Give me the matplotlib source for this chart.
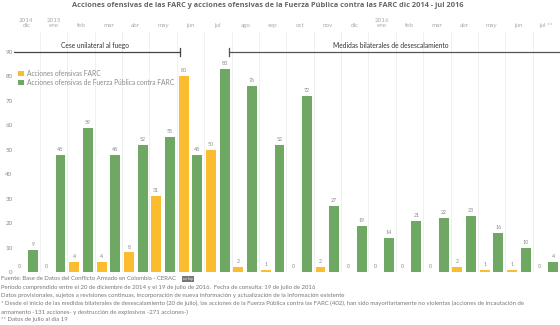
import numpy as np
import matplotlib.pyplot as plt

plt.rcParams['font.family'] = ['Lato', 'DejaVu Sans']

# months dic 2014 - jul 2016
meses = ['dic', 'ene', 'feb', 'mar', 'abr', 'may', 'jun', 'jul', 'ago', 'sep',
         'oct', 'nov', 'dic', 'ene', 'feb', 'mar', 'abr', 'may', 'jun', 'jul **']
farc = [0, 0, 4, 4, 8, 31, 80, 50, 2, 1, 0, 2, 0, 0, 0, 0, 2, 1, 1, 0]
fuerza_publica = [9, 48, 59, 48, 52, 55, 48, 83, 76, 52, 72, 27, 19, 14, 21, 22, 23, 16, 10, 4]
yticks = [0, 10, 20, 30, 40, 50, 60, 70, 80, 90]

amarillo = '#fbbd2f'
verde = '#6ea862'
gris = '#8a8a8a'

fig = plt.figure(figsize=(5.6, 3.25), dpi=100)
ax = fig.add_axes([0.025, 0.163, 0.975, 0.738])

x = np.arange(len(meses))
w = 0.36
ax.bar(x - 0.25, farc, w, color=amarillo, label='Acciones ofensivas FARC')
ax.bar(x + 0.25, fuerza_publica, w, color=verde,
       label='Acciones ofensivas de Fuerza Pública contra FARC')

# value labels
for xi, v in zip(x - 0.25, farc):
    ax.text(xi, v + 1.2, str(v), ha='center', va='bottom', fontsize=3.8, color=gris)
for xi, v in zip(x + 0.25, fuerza_publica):
    ax.text(xi, v + 1.2, str(v), ha='center', va='bottom', fontsize=3.8, color=gris)

ax.set_xlim(-0.45, 19.5)
ax.set_ylim(0, 98)

# month grid lines
for b in x[:-1] + 0.5:
    ax.axvline(b, color='#eeeeee', lw=0.6, zorder=0)

for s in ax.spines.values():
    s.set_visible(False)

ax.set_yticks(yticks)
ax.tick_params(axis='y', length=0, labelsize=4.5, labelcolor=gris, pad=1)
ax.xaxis.tick_top()
ax.set_xticks(x)
ax.set_xticklabels(meses)
ax.tick_params(axis='x', length=0, labelsize=4.5, labelcolor='#aaaaaa', pad=3)

# years above the months
for xi, yr in [(0, '2014'), (1, '2015'), (13, '2016')]:
    ax.text(xi, 1.04, yr, transform=ax.get_xaxis_transform(), ha='center',
            va='bottom', fontsize=4.5, color='#aaaaaa')

# periods
ax.plot([-0.45, 5.6], [90, 90], color='#444444', lw=0.9)
ax.plot([5.6, 5.6], [88.3, 91.7], color='#444444', lw=0.9)
ax.text(2.5, 91.2, 'Cese unilateral al fuego', ha='center', va='bottom',
        fontsize=4.8, color='#333333')
ax.plot([7.4, 19.5], [90, 90], color='#555555', lw=0.9)
ax.plot([7.4, 7.4], [88.3, 91.7], color='#555555', lw=0.9)
ax.text(13.3, 91.2, 'Medidas bilaterales de desescalamiento', ha='center',
        va='bottom', fontsize=4.8, color='#333333')

ax.legend(loc='upper left', bbox_to_anchor=(0.0, 0.86), frameon=False,
          fontsize=4.8, labelcolor=gris, handlelength=0.9, handleheight=0.9,
          handletextpad=0.4, borderaxespad=0.2, labelspacing=0.3)

fig.text(0.478, 0.993, 'Acciones ofensivas de las FARC y acciones ofensivas de la '
         'Fuerza Pública contra las FARC dic 2014 - jul 2016',
         ha='center', va='top', fontsize=5.3, fontweight='bold', color='#666666',
         family=['Open Sans', 'DejaVu Sans'])

notas = [
    'Fuente: Base de Datos del Conflicto Armado en Colombia - CERAC',
    'Período comprendido entre el 20 de diciembre de 2014 y el 19 de julio de 2016.  Fecha de consulta: 19 de julio de 2016',
    'Datos provisionales, sujetos a revisiones continuas, incorporación de nueva información y actualización de la información existente',
    '* Desde el inicio de las medidas bilaterales de desescalamiento (20 de julio), las acciones de la Fuerza Pública contra las FARC (402), han sido mayoritariamente no violentas (acciones de incautación de',
    'armamento -131 acciones- y destrucción de explosivos -271 acciones-)',
    '** Datos de julio al día 19',
]
for i, t in enumerate(notas):
    fig.text(0.002, 1 - (279 + i * 8.2) / 325, t, ha='left', va='center',
             fontsize=4.3, color='#777777')

# small licence badge after the source line
fig.text(0.327, 1 - 279 / 325, 'cc by', ha='left', va='center', fontsize=3.2,
         color='white', bbox=dict(boxstyle='square,pad=0.15', fc='#777777', ec='none'))

fig.savefig('out.png', dpi=100)
